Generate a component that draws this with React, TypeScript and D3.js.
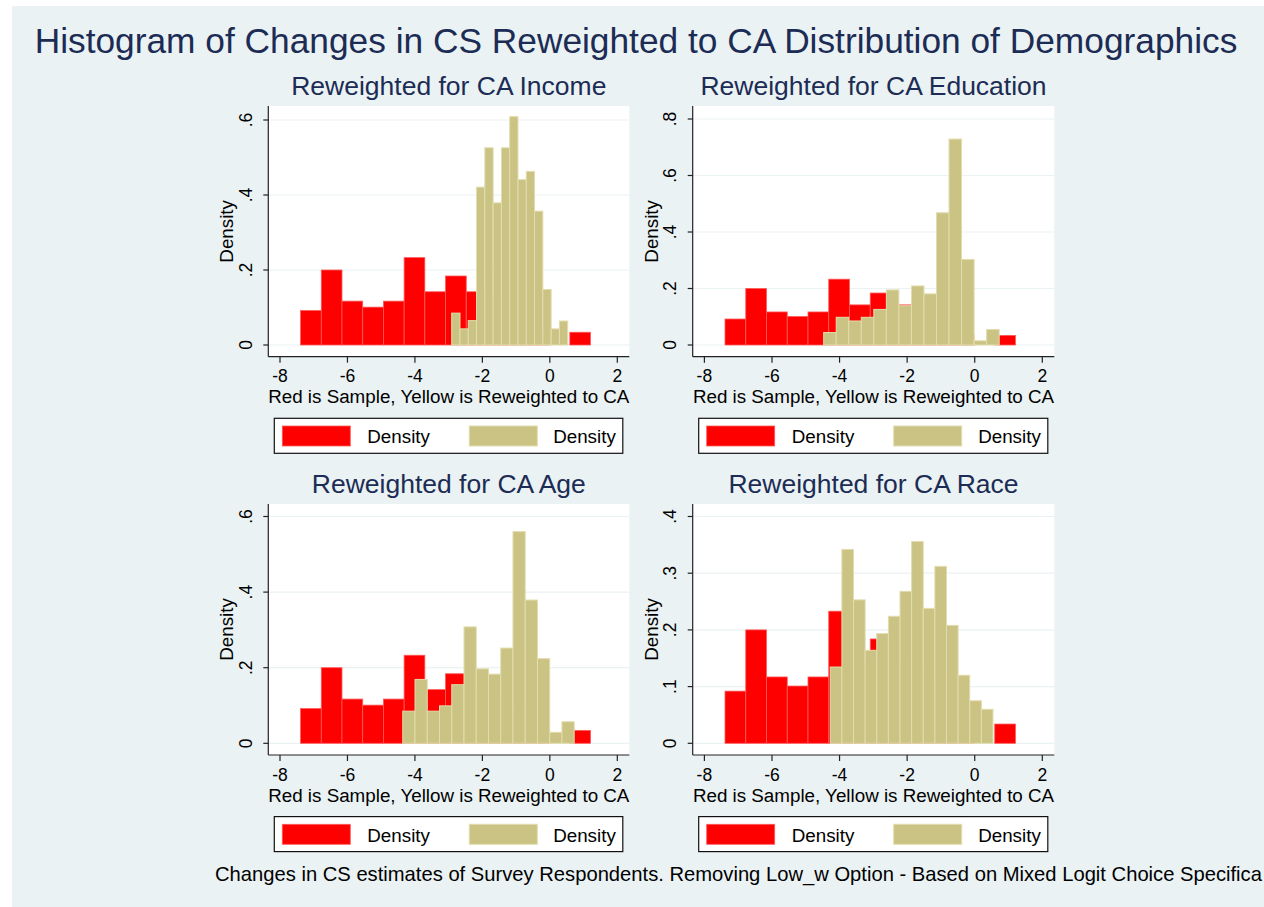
import React from "react";
import * as d3 from "d3";

// ---------- DATA ----------
const xTicks = [-8, -6, -4, -2, 0, 2];

// Sample (red) histogram — same in all four panels
const sampleStart = -7.39;
const sampleWidth = 0.614;
const sampleDensity = [0.092, 0.2, 0.117, 0.101, 0.117, 0.233, 0.142, 0.184, 0.142, 0.13, 0.1, 0.037, 0.0, 0.034];

// Reweighted (yellow) histograms
const incomeStart = -2.91;
const incomeWidth = 0.2457;
const incomeDensity = [0.085, 0.043, 0.065, 0.421, 0.526, 0.379, 0.526, 0.609, 0.441, 0.463, 0.357, 0.148, 0.043, 0.064];

const educationStart = -4.47;
const educationWidth = 0.371;
const educationDensity = [0.044, 0.098, 0.085, 0.098, 0.126, 0.195, 0.139, 0.209, 0.181, 0.468, 0.729, 0.303, 0.015, 0.055];

const ageStart = -4.36;
const ageWidth = 0.363;
const ageDensity = [0.085, 0.169, 0.085, 0.099, 0.155, 0.308, 0.197, 0.183, 0.252, 0.56, 0.379, 0.224, 0.029, 0.057];

const raceStart = -4.275;
const raceWidth = 0.344;
const raceDensity = [0.1345, 0.342, 0.253, 0.164, 0.1935, 0.224, 0.268, 0.356, 0.238, 0.312, 0.208, 0.12, 0.075, 0.06];

const incomeYTicks = [0, 0.2, 0.4, 0.6];
const educationYTicks = [0, 0.2, 0.4, 0.6, 0.8];
const ageYTicks = [0, 0.2, 0.4, 0.6];
const raceYTicks = [0, 0.1, 0.2, 0.3, 0.4];

const panelTitles = [
  "Reweighted for CA Income",
  "Reweighted for CA Education",
  "Reweighted for CA Age",
  "Reweighted for CA Race",
];

const mainTitle = "Histogram of Changes in CS Reweighted to CA Distribution of Demographics";
const xAxisTitle = "Red is Sample, Yellow is Reweighted to CA";
const yAxisTitle = "Density";
const legendLabels = ["Density", "Density"];
const footnote =
  "Changes in CS estimates of Survey Respondents. Removing Low_w Option - Based on Mixed Logit Choice Specifica";

// ---------- STYLE ----------
const FONT = "'Liberation Sans', Arial, Helvetica, sans-serif";
const BG = "#EAF2F3";
const TITLE_COLOR = "#1C2C55";
const RED = "#FF0000";
const RED_EDGE = "#FF5A5A";
const KHAKI = "#CAC383";
const KHAKI_EDGE = "#E2DDAE";

type Bin = { x0: number; x1: number; d: number };
const toBins = (start: number, width: number, dens: number[]): Bin[] =>
  dens.map((d, i) => ({ x0: start + i * width, x1: start + (i + 1) * width, d }));

const panels = [
  { title: panelTitles[0], left: 268.3, top: 106, right: 629.3, bottom: 356.7, yTicks: incomeYTicks, topPad: 14,
    yellow: toBins(incomeStart, incomeWidth, incomeDensity) },
  { title: panelTitles[1], left: 692.7, top: 106, right: 1054.3, bottom: 356.7, yTicks: educationYTicks, topPad: 13,
    yellow: toBins(educationStart, educationWidth, educationDensity) },
  { title: panelTitles[2], left: 268.3, top: 504, right: 629.3, bottom: 755, yTicks: ageYTicks, topPad: 12.5,
    yellow: toBins(ageStart, ageWidth, ageDensity) },
  { title: panelTitles[3], left: 692.7, top: 504, right: 1054.3, bottom: 755, yTicks: raceYTicks, topPad: 12.5,
    yellow: toBins(raceStart, raceWidth, raceDensity) },
];

const redBins = toBins(sampleStart, sampleWidth, sampleDensity);

const fmtY = (v: number) => (v === 0 ? "0" : d3.format(".1f")(v).replace(/^0/, ""));

function Panel({ p }: { p: (typeof panels)[number] }) {
  const x = d3.scaleLinear().domain([-8, 2]).range([p.left + 11.7, p.right - 12]);
  const yMax = p.yTicks[p.yTicks.length - 1];
  const y = d3.scaleLinear().domain([0, yMax]).range([p.bottom - 11.7, p.top + p.topPad]);
  const cx = (p.left + p.right) / 2;
  const cy = (p.top + p.bottom) / 2;
  const lgTop = p.bottom + 61.6;
  const lgLeft = p.left + 6;
  const lgRight = p.right - 6.5;
  return (
    <g>
      <text x={cx} y={p.top - 10.7} textAnchor="middle" fontSize={26.5} fill={TITLE_COLOR} fontFamily={FONT}>
        {p.title}
      </text>
      <rect x={p.left} y={p.top} width={p.right - p.left} height={p.bottom - p.top} fill="#FFFFFF" />
      {p.yTicks.map((t) => (
        <line key={"g" + t} x1={p.left} x2={p.right} y1={y(t)} y2={y(t)} stroke={BG} strokeWidth={1.2} />
      ))}
      {redBins.map((b, i) =>
        b.d > 0 ? (
          <rect key={"r" + i} x={x(b.x0)} y={y(b.d)} width={x(b.x1) - x(b.x0)} height={y(0) - y(b.d)}
            fill={RED} stroke={RED_EDGE} strokeWidth={0.8} />
        ) : null
      )}
      {p.yellow.map((b, i) => (
        <rect key={"y" + i} x={x(b.x0)} y={y(b.d)} width={x(b.x1) - x(b.x0)} height={y(0) - y(b.d)}
          fill={KHAKI} stroke={KHAKI_EDGE} strokeWidth={1} />
      ))}
      {/* axes */}
      <line x1={p.left} x2={p.left} y1={p.top} y2={p.bottom} stroke="#222" strokeWidth={1.2} />
      <line x1={p.left} x2={p.right} y1={p.bottom} y2={p.bottom} stroke="#222" strokeWidth={1.2} />
      {p.yTicks.map((t) => (
        <g key={"yt" + t}>
          <line x1={p.left - 5} x2={p.left} y1={y(t)} y2={y(t)} stroke="#222" strokeWidth={1.2} />
          <text transform={`translate(${p.left - 16.6},${y(t)}) rotate(-90)`} textAnchor="middle"
            fontSize={17.5} fill="#000" fontFamily={FONT}>
            {fmtY(t)}
          </text>
        </g>
      ))}
      {xTicks.map((t) => (
        <g key={"xt" + t}>
          <line x1={x(t)} x2={x(t)} y1={p.bottom} y2={p.bottom + 6} stroke="#222" strokeWidth={1.2} />
          <text x={x(t)} y={p.bottom + 25.6} textAnchor="middle" fontSize={17.5} fill="#000" fontFamily={FONT}>
            {t}
          </text>
        </g>
      ))}
      <text transform={`translate(${p.left - 35},${cy}) rotate(-90)`} textAnchor="middle" fontSize={18.8}
        fill="#000" fontFamily={FONT}>
        {yAxisTitle}
      </text>
      <text x={cx} y={p.bottom + 46.6} textAnchor="middle" fontSize={18.8} fill="#000" fontFamily={FONT}>
        {xAxisTitle}
      </text>
      {/* legend */}
      <rect x={lgLeft} y={lgTop} width={lgRight - lgLeft} height={35} fill="#FFFFFF" stroke="#111" strokeWidth={1.2} />
      <rect x={lgLeft + 8} y={lgTop + 7.7} width={68} height={20} fill={RED} stroke={RED_EDGE} strokeWidth={0.8} />
      <text x={lgLeft + 93} y={lgTop + 25} fontSize={18.8} fill="#000" fontFamily={FONT}>
        {legendLabels[0]}
      </text>
      <rect x={lgLeft + 195} y={lgTop + 7.7} width={68} height={20} fill={KHAKI} stroke={KHAKI_EDGE} strokeWidth={1} />
      <text x={lgRight - 7} y={lgTop + 25} textAnchor="end" fontSize={18.8} fill="#000" fontFamily={FONT}>
        {legendLabels[1]}
      </text>
    </g>
  );
}

export default function App() {
  return (
    <svg width={1264} height={907} style={{ position: "absolute", left: 0, top: 0, background: "#FFFFFF" }}>
      <rect x={12} y={6} width={1252} height={901} fill={BG} />
      <text x={636} y={52.7} textAnchor="middle" fontSize={35.3} fill={TITLE_COLOR} fontFamily={FONT}>
        {mainTitle}
      </text>
      {panels.map((p, i) => (
        <Panel key={i} p={p} />
      ))}
      <text x={215} y={881} fontSize={20.2} fill="#000" fontFamily={FONT}>
        {footnote}
      </text>
    </svg>
  );
}
